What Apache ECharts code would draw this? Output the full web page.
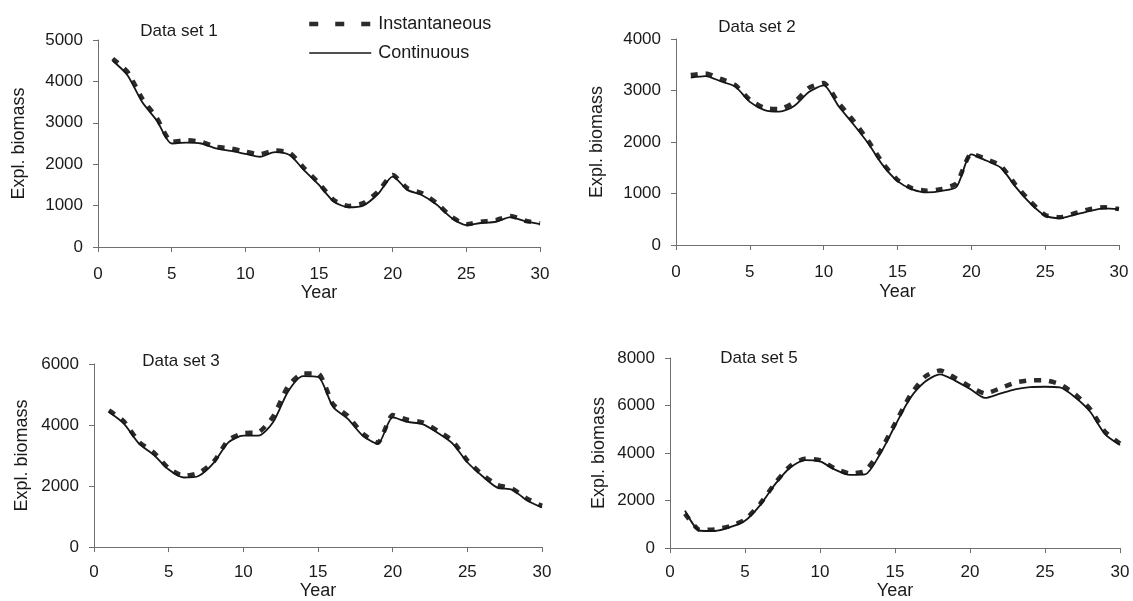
<!DOCTYPE html>
<html>
<head>
<meta charset="utf-8">
<title>Exploitable biomass by data set</title>
<script src="https://cdn.jsdelivr.net/npm/echarts@6/dist/echarts.min.js"></script>
<style>
  html, body { margin: 0; padding: 0; background: #fff; }
  #chart { width: 1133px; height: 601px; }
</style>
</head>
<body>
<div id="chart"></div>
<script>
// Years of the simulation
const years = [1, 2, 3, 4, 5, 6, 7, 8, 9, 10, 11, 12, 13, 14, 15, 16, 17, 18, 19, 20, 21, 22, 23, 24, 25, 26, 27, 28, 29, 30];

// Data set 1
const ds1Instantaneous = [4550, 4230, 3590, 3110, 2540, 2580, 2540, 2420, 2380, 2300, 2245, 2330, 2280, 1900, 1540, 1135, 990, 1060, 1335, 1740, 1420, 1300, 1055, 730, 550, 610, 650, 750, 635, 570];
const ds1Continuous   = [4500, 4150, 3500, 3050, 2500, 2520, 2500, 2380, 2320, 2250, 2180, 2290, 2220, 1850, 1500, 1100, 960, 1000, 1280, 1700, 1380, 1250, 1020, 700, 530, 580, 610, 720, 620, 555];

// Data set 2
const ds2Instantaneous = [3300, 3330, 3230, 3110, 2820, 2660, 2640, 2770, 3050, 3145, 2760, 2420, 2030, 1590, 1265, 1100, 1055, 1090, 1200, 1770, 1667, 1537, 1167, 842, 584, 539, 617, 695, 733, 700];
const ds2Continuous   = [3250, 3280, 3180, 3080, 2780, 2620, 2590, 2700, 2970, 3100, 2700, 2350, 1980, 1550, 1240, 1080, 1020, 1050, 1130, 1760, 1640, 1500, 1130, 810, 570, 520, 590, 660, 710, 695];

// Data set 3
const ds3Instantaneous = [4480, 4123, 3455, 3100, 2585, 2330, 2430, 2790, 3510, 3733, 3760, 4280, 5280, 5690, 5690, 4690, 4300, 3713, 3420, 4330, 4175, 4090, 3815, 3485, 2840, 2380, 2040, 1917, 1590, 1350];
const ds3Continuous   = [4430, 4050, 3400, 3020, 2540, 2280, 2330, 2750, 3430, 3650, 3650, 4100, 5100, 5600, 5580, 4600, 4200, 3650, 3385, 4250, 4100, 4030, 3750, 3400, 2780, 2330, 1950, 1880, 1530, 1300];

// Data set 5
const ds5Instantaneous = [1450, 760, 786, 925, 1200, 1862, 2730, 3450, 3765, 3700, 3350, 3145, 3250, 4070, 5240, 6410, 7215, 7476, 7170, 6800, 6510, 6720, 6965, 7060, 7060, 6895, 6480, 5860, 4900, 4400];
const ds5Continuous   = [1580, 730, 720, 880, 1150, 1800, 2680, 3380, 3700, 3650, 3300, 3080, 3100, 3950, 5150, 6300, 7000, 7310, 7050, 6700, 6320, 6500, 6680, 6770, 6790, 6760, 6350, 5750, 4800, 4340];

// Axis ticks
const xTicks = { min: 0, max: 30, interval: 5 };
const yMax = [5000, 4000, 6000, 8000];
const yInterval = [1000, 1000, 2000, 2000];
const panelTitles = ['Data set 1', 'Data set 2', 'Data set 3', 'Data set 5'];
const seriesNames = ['Instantaneous', 'Continuous'];
const xAxisName = 'Year';
const yAxisName = 'Expl. biomass';

const panels = [
  [ds1Instantaneous, ds1Continuous],
  [ds2Instantaneous, ds2Continuous],
  [ds3Instantaneous, ds3Continuous],
  [ds5Instantaneous, ds5Continuous]
];

const FONT = '"Liberation Sans", Arial, Helvetica, sans-serif';
const AXIS_COLOR = '#6f6f6f';
const TEXT_COLOR = '#1a1a1a';

// Panel layout (pixels)
const grids = [
  { left: 98,  top: 40,  width: 442, height: 207 },
  { left: 676, top: 39,  width: 443, height: 206 },
  { left: 94,  top: 364, width: 448, height: 195 },
  { left: 670, top: 358, width: 450, height: 194 }
];
const titlePos = [
  { x: 174, y: 18 }, { x: 752, y: 14 }, { x: 176, y: 348 }, { x: 754, y: 345 }
];
const xLabelMargin = [19, 19, 17, 16];
const xNameGap = [36, 38, 29, 32];
const yNameGap = [70, 70, 63, 62];

const instLine = { color: '#2b2b2b', width: 4.5, type: [7, 8], cap: 'butt' };
const contLine = { color: '#161616', width: 1.8, type: 'solid' };

const option = {
  backgroundColor: '#ffffff',
  animation: false,
  textStyle: { fontFamily: FONT },
  title: panelTitles.map((t, i) => ({
    text: t,
    left: titlePos[i].x,
    top: titlePos[i].y,
    textAlign: 'center',
    textStyle: { fontFamily: FONT, fontSize: 17, fontWeight: 'normal', color: TEXT_COLOR }
  })),
  legend: {
    orient: 'vertical',
    left: 307,
    top: 15,
    padding: 0,
    itemWidth: 62,
    itemHeight: 14,
    itemGap: 11,
    lineStyle: { type: [9, 17], width: 4.5, cap: 'butt' },
    textStyle: { fontFamily: FONT, fontSize: 18, color: TEXT_COLOR, padding: [0, 0, 0, 2] },
    data: [
      { name: seriesNames[0], itemStyle: { opacity: 0 }, lineStyle: { color: '#2b2b2b', width: 4.5, type: [9, 17], dashOffset: 0 } },
      { name: seriesNames[1], itemStyle: { opacity: 0 }, lineStyle: { color: '#161616', width: 1.6, type: 'solid' } }
    ]
  },
  grid: grids.map(g => Object.assign({ containLabel: false }, g)),
  xAxis: grids.map((g, i) => ({
    type: 'value',
    gridIndex: i,
    min: xTicks.min,
    max: xTicks.max,
    interval: xTicks.interval,
    name: xAxisName,
    nameLocation: 'middle',
    nameGap: xNameGap[i],
    nameTextStyle: { fontFamily: FONT, fontSize: 18, color: TEXT_COLOR },
    axisLine: { show: true, onZero: false, lineStyle: { color: AXIS_COLOR, width: 1 } },
    axisTick: { show: true, inside: false, length: 5, lineStyle: { color: AXIS_COLOR } },
    axisLabel: { fontFamily: FONT, fontSize: 17, color: TEXT_COLOR, margin: xLabelMargin[i] },
    splitLine: { show: false }
  })),
  yAxis: grids.map((g, i) => ({
    type: 'value',
    gridIndex: i,
    min: 0,
    max: yMax[i],
    interval: yInterval[i],
    name: yAxisName,
    nameLocation: 'middle',
    nameRotate: 90,
    nameGap: yNameGap[i],
    nameTextStyle: { fontFamily: FONT, fontSize: 18, color: TEXT_COLOR },
    axisLine: { show: true, lineStyle: { color: AXIS_COLOR, width: 1 } },
    axisTick: { show: true, inside: false, length: 5, lineStyle: { color: AXIS_COLOR } },
    axisLabel: { fontFamily: FONT, fontSize: 17, color: TEXT_COLOR, margin: 15, formatter: v => String(v) },
    splitLine: { show: false }
  })),
  series: []
};

panels.forEach((pair, i) => {
  option.series.push({
    name: seriesNames[0],
    type: 'line',
    xAxisIndex: i,
    yAxisIndex: i,
    data: years.map((y, k) => [y, pair[0][k]]),
    showSymbol: false,
    symbol: 'none',
    smooth: 0.2,
    lineStyle: instLine,
    itemStyle: { color: '#2b2b2b' },
    z: 2
  });
  option.series.push({
    name: seriesNames[1],
    type: 'line',
    xAxisIndex: i,
    yAxisIndex: i,
    data: years.map((y, k) => [y, pair[1][k]]),
    showSymbol: false,
    symbol: 'none',
    smooth: 0.25,
    lineStyle: contLine,
    itemStyle: { color: '#161616' },
    z: 3
  });
});

const chart = echarts.init(document.getElementById('chart'), null, { renderer: 'canvas' });
chart.setOption(option);
</script>
</body>
</html>
